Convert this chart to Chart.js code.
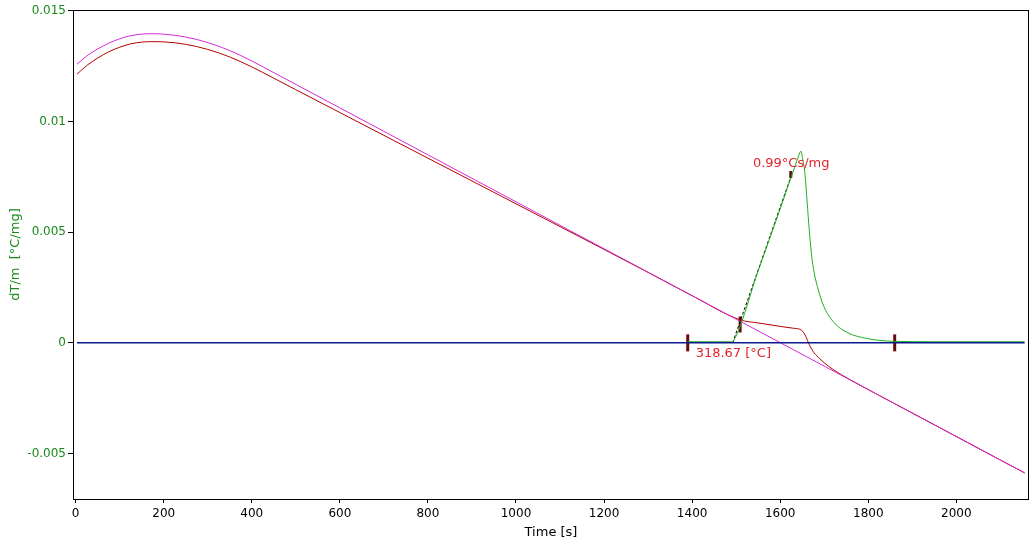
<!DOCTYPE html>
<html>
<head>
<meta charset="utf-8">
<script src="https://cdn.jsdelivr.net/npm/chart.js@4/dist/chart.umd.min.js"></script>
<style>
  body { margin: 0; background: #fff; }
</style>
</head>
<body>
<canvas id="dsc" width="1032" height="544"></canvas>
<script>
// axis ticks
const xTicks = [0, 200, 400, 600, 800, 1000, 1200, 1400, 1600, 1800, 2000];
const yTicks = [-0.005, 0, 0.005, 0.01, 0.015];

// baseline (magenta)
const baseTime = [3, 25, 50, 75, 100, 125, 150, 170, 200, 250, 300, 350, 400, 450, 500, 600, 700, 800, 900, 1000,
  1100, 1200, 1300, 1400, 1500, 1600, 1700, 1800, 1900, 2000, 2100, 2155];
const baseValue = [0.01258, 0.01295, 0.01327, 0.01353, 0.01373, 0.01387, 0.01394, 0.01396, 0.01394, 0.01381,
  0.01356, 0.01320, 0.01273, 0.01220, 0.01167, 0.01061, 0.00955, 0.00849, 0.00743, 0.00637,
  0.00531, 0.00425, 0.00319, 0.00213, 0.00107, 0.00001, -0.00105, -0.00211, -0.00317, -0.00423, -0.00529, -0.00587];

// measured signal (dark red)
const sigTime = [3, 25, 50, 75, 100, 125, 150, 170, 200, 250, 300, 350, 400, 450, 500, 600, 700, 800, 900, 1000,
  1100, 1200, 1300, 1400, 1509, 1550, 1601, 1630, 1645, 1652, 1658, 1666, 1677, 1690, 1700, 1720, 1740, 1760,
  1800, 1900, 2000, 2100, 2155];
const sigValue = [0.01213, 0.01252, 0.01286, 0.01314, 0.01335, 0.01350, 0.01358, 0.01360, 0.01359, 0.01348,
  0.01325, 0.01291, 0.01246, 0.01195, 0.01143, 0.01040, 0.00937, 0.00834, 0.00731, 0.00628,
  0.00525, 0.00422, 0.00318, 0.00213, 0.00104, 0.00090, 0.00074, 0.00066, 0.00061, 0.00050, 0.00030, -0.00008,
  -0.00045, -0.00072, -0.00090, -0.00120, -0.00145, -0.00168, -0.00211, -0.00317, -0.00423, -0.00529, -0.00587];

// peak after baseline subtraction (green)
const peakTime = [1390, 1450, 1490, 1495, 1550, 1600, 1625, 1635, 1642, 1647, 1651, 1656, 1661, 1666, 1671,
  1677, 1685, 1699, 1722, 1753, 1799, 1858, 1950, 2155];
const peakValue = [0.00005, 0.00005, 0.00005, 0.00012, 0.00325, 0.00605, 0.00750, 0.00805, 0.00845, 0.00866,
  0.00830, 0.00769, 0.00640, 0.00510, 0.00400, 0.00318, 0.00250, 0.00165, 0.00092, 0.00046, 0.00019, 0.00007,
  0.00005, 0.00005];

// zero line (blue)
const zeroTime = [3, 2155];
const zeroValue = [0, 0];

// onset tangent (black)
const tangentTime = [1492, 1626];
const tangentValue = [0, 0.0076];

// integration / onset markers
const markerTime = [1390, 1509, 1624, 1860];
const markerValue = [0, 0.00083, 0.0076, 0];

// result labels
const labelText = ['0.99°Cs/mg', '318.67 [°C]'];
const labelTime = [1538, 1408];
const labelValue = [0.00811, -0.00050];

const pts = (xs, ys) => xs.map((x, i) => ({ x: x, y: ys[i] }));

const frame = {
  id: 'frame',
  afterDatasetsDraw(chart) {
    const { ctx, chartArea: a, scales } = chart;
    ctx.save();
    ctx.strokeStyle = '#000';
    ctx.lineWidth = 1;
    ctx.strokeRect(Math.round(a.left) + 0.5, Math.round(a.top) + 0.5,
      Math.round(a.right - a.left) - 1, Math.round(a.bottom - a.top));
    ctx.fillStyle = '#e3242b';
    ctx.font = '13px "DejaVu Sans"';
    ctx.textBaseline = 'middle';
    ctx.textAlign = 'left';
    labelText.forEach((t, i) => {
      ctx.fillText(t, scales.x.getPixelForValue(labelTime[i]), scales.y.getPixelForValue(labelValue[i]));
    });
    ctx.restore();
  }
};

const tickFont = { family: 'DejaVu Sans', size: 12 };
const titleFont = { family: 'DejaVu Sans', size: 13 };

new Chart(document.getElementById('dsc'), {
  type: 'line',
  data: {
    datasets: [
      { data: pts(zeroTime, zeroValue), borderColor: '#0a1a8c', borderWidth: 1.5, pointRadius: 0 },
      { data: pts(peakTime, peakValue), borderColor: '#1fae1f', borderWidth: 1, pointRadius: 0, cubicInterpolationMode: 'monotone' },
      { data: pts(tangentTime, tangentValue), borderColor: '#000', borderWidth: 1, borderDash: [3, 2], pointRadius: 0 },
      { data: pts(baseTime, baseValue), borderColor: '#d42ad4', borderWidth: 1, pointRadius: 0, cubicInterpolationMode: 'monotone' },
      { data: pts(sigTime, sigValue), borderColor: '#b30000', borderWidth: 1, pointRadius: 0, cubicInterpolationMode: 'monotone' },
      {
        data: pts(markerTime, markerValue), showLine: false,
        pointStyle: 'line', rotation: 90, pointRadius: [8.5, 8, 3.5, 8.5],
        pointBorderColor: '#6b0a0a', pointBorderWidth: 3, pointBackgroundColor: '#6b0a0a'
      }
    ]
  },
  options: {
    responsive: false,
    animation: false,
    plugins: { legend: { display: false }, tooltip: { enabled: false } },
    layout: { autoPadding: false, padding: { top: 10, right: 3, left: 0, bottom: 0 } },
    scales: {
      x: {
        type: 'linear', min: -6, max: 2165,
        afterBuildTicks: s => { s.ticks = xTicks.map(v => ({ value: v })); },
        afterFit: s => { s.height = 45; s.paddingLeft = 0; s.paddingRight = 0; },
        grid: { drawOnChartArea: false, tickLength: 4, color: '#000' },
        border: { display: false },
        ticks: { color: '#000', font: tickFont, maxRotation: 0, autoSkip: false, padding: 4, callback: v => String(v) },
        title: { display: true, text: 'Time [s]', color: '#000', font: titleFont, padding: { top: 0, bottom: 4 } }
      },
      y: {
        min: -0.00705, max: 0.01503,
        afterBuildTicks: s => { s.ticks = yTicks.map(v => ({ value: v })); },
        afterFit: s => { s.width = 73; s.paddingTop = 0; s.paddingBottom = 0; },
        grid: { drawOnChartArea: false, tickLength: 5, color: '#000' },
        border: { display: false },
        ticks: { color: '#1a8a1a', font: tickFont, autoSkip: false, padding: 2, callback: v => String(v) },
        title: { display: true, text: 'dT/m  [°C/mg]', color: '#1a8a1a', font: titleFont, padding: { top: 8, bottom: 0 } }
      }
    }
  },
  plugins: [frame]
});
</script>
</body>
</html>
